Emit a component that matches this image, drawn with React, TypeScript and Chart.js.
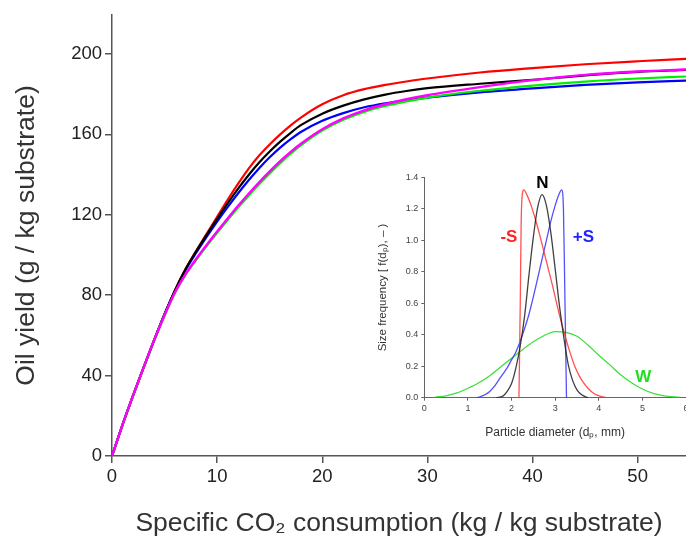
import React, { useEffect, useRef } from "react";
import { Chart, registerables } from "chart.js";

Chart.register(...registerables);

const FONT = '"Liberation Sans", Arial, Helvetica, sans-serif';

// ---------- main chart data ----------
const consumption = [0, 1, 2, 3, 4, 5, 6, 7, 8, 9, 10, 11, 12, 13, 14, 15, 16, 17, 18, 20, 22, 24, 26, 28, 30, 35, 40, 45, 50, 54.6];
const yieldRed = [0, 15.5, 30, 44, 57.5, 70.5, 82.5, 93, 102, 110.5, 119, 127.5, 135.5, 143, 149.5, 155, 160, 164.5, 168.5, 175, 179.5, 182.5, 184.6, 186.3, 187.8, 190.8, 193, 194.9, 196.4, 197.6];
const yieldBlack = [0, 15.5, 30, 44, 57.5, 70.5, 82.5, 93, 101.8, 110, 118, 125.7, 133, 139.8, 146, 151.5, 156.4, 160.8, 164.7, 170.3, 174.3, 177.4, 179.8, 181.6, 183, 185.2, 187.1, 189.4, 191.1, 192.1];
const yieldBlue = [0, 15.5, 30, 44, 57.5, 70.5, 82.3, 92.5, 101, 109, 116.6, 123.8, 130.7, 137.2, 143.2, 148.6, 153.4, 157.6, 161.3, 166.8, 170.6, 173.5, 175.5, 177, 178.3, 180.9, 182.9, 184.6, 185.9, 186.8];
const yieldGreen = [0, 15.5, 30, 44, 57.5, 70, 81.3, 90.2, 97.5, 104.4, 111, 117.4, 123.6, 129.5, 135.2, 140.6, 145.7, 150.4, 154.7, 161.9, 167.3, 171.2, 174.1, 176.4, 178.3, 181.7, 184.3, 186.3, 187.8, 188.8];
const yieldMagenta = [0, 15.5, 30, 44, 57.5, 70, 81.5, 90.5, 98, 105, 111.7, 118.2, 124.5, 130.5, 136.2, 141.6, 146.7, 151.3, 155.5, 162.6, 168, 172, 175, 177.5, 179.5, 183.5, 187, 189.6, 191.3, 192.3];
const mainXTicks = [0, 10, 20, 30, 40, 50];
const mainYTicks = [0, 40, 80, 120, 160, 200];

// ---------- inset data ----------
const diamN = [1.65, 1.8, 1.9, 2.0, 2.1, 2.2, 2.3, 2.4, 2.5, 2.6, 2.7, 2.8, 2.9, 3.0, 3.1, 3.2, 3.3, 3.4, 3.5, 3.6, 3.75];
const freqN = [0, 0.01, 0.04, 0.09, 0.19, 0.33, 0.52, 0.78, 1.02, 1.21, 1.29, 1.22, 1.05, 0.82, 0.58, 0.38, 0.21, 0.11, 0.05, 0.02, 0];
const diamMinusS = [2.17, 2.2, 2.22, 2.25, 2.28, 2.35, 2.45, 2.55, 2.65, 2.75, 2.85, 2.95, 3.05, 3.15, 3.25, 3.35, 3.45, 3.55, 3.65, 3.75, 3.85, 3.95, 4.05, 4.2];
const freqMinusS = [0, 0.6, 1.1, 1.3, 1.32, 1.29, 1.22, 1.13, 1.03, 0.92, 0.81, 0.7, 0.58, 0.47, 0.37, 0.28, 0.2, 0.14, 0.095, 0.06, 0.035, 0.018, 0.008, 0];
const diamPlusS = [1.2, 1.3, 1.4, 1.5, 1.6, 1.7, 1.8, 1.9, 2.0, 2.1, 2.2, 2.3, 2.4, 2.5, 2.6, 2.7, 2.8, 2.9, 3.0, 3.1, 3.15, 3.19, 3.22, 3.26];
const freqPlusS = [0, 0.008, 0.02, 0.04, 0.07, 0.11, 0.15, 0.19, 0.24, 0.29, 0.36, 0.44, 0.53, 0.64, 0.76, 0.88, 1.0, 1.12, 1.22, 1.3, 1.32, 1.2, 0.7, 0];
const diamW = [0.25, 0.5, 0.75, 1, 1.25, 1.5, 1.75, 2, 2.25, 2.5, 2.75, 3, 3.25, 3.5, 3.75, 4, 4.25, 4.5, 4.75, 5, 5.25, 5.5, 5.85];
const freqW = [0.004, 0.012, 0.03, 0.06, 0.095, 0.14, 0.195, 0.25, 0.305, 0.355, 0.395, 0.42, 0.415, 0.39, 0.335, 0.27, 0.21, 0.145, 0.095, 0.055, 0.027, 0.012, 0.003];
const insetXTicks = [0, 1, 2, 3, 4, 5, 6];
const insetYTicks = [0, 0.2, 0.4, 0.6, 0.8, 1.0, 1.2, 1.4];
const insetLabelText = ["N", "-S", "+S", "W"];
const insetLabelX = [2.71, 1.94, 3.65, 5.02];
const insetLabelY = [1.36, 1.02, 1.02, 0.13];
const insetLabelColor = ["#000000", "#ff2222", "#2222ff", "#22dd22"];

const toXY = (xs: number[], ys: number[]) => xs.map((x, i) => ({ x, y: ys[i] }));

export default function App() {
  const mainRef = useRef<HTMLCanvasElement | null>(null);
  const insetRef = useRef<HTMLCanvasElement | null>(null);

  useEffect(() => {
    document.body.style.margin = "0";
    if (!mainRef.current || !insetRef.current) return;

    const line = (data: any, color: string, width: number) => ({
      data,
      borderColor: color,
      backgroundColor: color,
      borderWidth: width,
      pointRadius: 0,
      fill: false,
      cubicInterpolationMode: "monotone" as const,
    });

    const main = new Chart(mainRef.current, {
      type: "line",
      data: {
        datasets: [
          line(toXY(consumption, yieldMagenta), "#ff00ff", 2.4),
          line(toXY(consumption, yieldGreen), "#00ee00", 2.2),
          line(toXY(consumption, yieldBlack), "#000000", 2.2),
          line(toXY(consumption, yieldBlue), "#0000ff", 2.2),
          line(toXY(consumption, yieldRed), "#ff0000", 2.2),
        ],
      },
      options: {
        animation: false,
        responsive: false,
        maintainAspectRatio: false,
        layout: { padding: { left: 0, right: 0, top: 15, bottom: 0 } },
        plugins: { legend: { display: false }, tooltip: { enabled: false } },
        scales: {
          x: {
            type: "linear",
            min: 0,
            max: 54.6,
            afterBuildTicks: (s: any) => {
              s.ticks = mainXTicks.map((v) => ({ value: v }));
            },
            afterFit: (s: any) => {
              s.height = 84;
            },
            grid: { display: true, drawOnChartArea: false, drawTicks: true, tickLength: 7, color: "#555", lineWidth: 1.5 },
            border: { display: true, color: "#555", width: 1.5 },
            ticks: { font: { size: 18.5, family: FONT }, color: "#222", padding: 3, maxRotation: 0, autoSkip: false },
            title: {
              display: true,
              text: "Specific CO₂ consumption (kg / kg substrate)",
              font: { size: 26.5, family: FONT },
              color: "#333",
              padding: { top: 0, bottom: 0 },
            },
          },
          y: {
            type: "linear",
            min: 0,
            max: 219.4,
            afterBuildTicks: (s: any) => {
              s.ticks = mainYTicks.map((v) => ({ value: v }));
            },
            afterFit: (s: any) => {
              s.width = 112;
            },
            grid: { display: true, drawOnChartArea: false, drawTicks: true, tickLength: 7, color: "#555", lineWidth: 1.5 },
            border: { display: true, color: "#555", width: 1.5 },
            ticks: { font: { size: 18.5, family: FONT }, color: "#222", padding: 3, autoSkip: false },
            title: {
              display: true,
              text: "Oil yield (g / kg substrate)",
              font: { size: 26.5, family: FONT },
              color: "#333",
              padding: { top: 11, bottom: 0 },
            },
          },
        },
      },
    });

    const labelPlugin = {
      id: "insetLabels",
      afterDatasetsDraw(chart: any) {
        const ctx = chart.ctx;
        const xs = chart.scales.x;
        const ys = chart.scales.y;
        ctx.save();
        ctx.font = `bold 17px ${FONT}`;
        ctx.textAlign = "center";
        ctx.textBaseline = "middle";
        insetLabelText.forEach((t, i) => {
          ctx.fillStyle = insetLabelColor[i];
          ctx.fillText(t, xs.getPixelForValue(insetLabelX[i]), ys.getPixelForValue(insetLabelY[i]));
        });
        ctx.restore();
      },
    };

    const inset = new Chart(insetRef.current, {
      type: "line",
      data: {
        datasets: [
          line(toXY(diamN, freqN), "rgba(30,30,30,0.85)", 1.3),
          line(toXY(diamMinusS, freqMinusS), "rgba(255,50,50,0.85)", 1.3),
          line(toXY(diamPlusS, freqPlusS), "rgba(50,50,255,0.85)", 1.3),
          line(toXY(diamW, freqW), "rgba(40,220,40,0.9)", 1.3),
        ],
      },
      options: {
        animation: false,
        responsive: false,
        maintainAspectRatio: false,
        layout: { padding: { left: 0, right: 24, top: 17.3, bottom: 0 } },
        plugins: { legend: { display: false }, tooltip: { enabled: false } },
        scales: {
          x: {
            type: "linear",
            min: 0,
            max: 6,
            afterBuildTicks: (s: any) => {
              s.ticks = insetXTicks.map((v) => ({ value: v }));
            },
            afterFit: (s: any) => {
              s.height = 47.3;
            },
            grid: { display: true, drawOnChartArea: false, drawTicks: true, tickLength: 3, color: "#666", lineWidth: 1 },
            border: { display: true, color: "#666", width: 1 },
            ticks: { font: { size: 9, family: FONT }, color: "#444", padding: 2, maxRotation: 0, autoSkip: false },
            title: {
              display: true,
              text: "Particle diameter (dₚ, mm)",
              font: { size: 12, family: FONT },
              color: "#333",
              padding: { top: 0, bottom: 4.8 },
            },
          },
          y: {
            type: "linear",
            min: 0,
            max: 1.4,
            afterBuildTicks: (s: any) => {
              s.ticks = insetYTicks.map((v) => ({ value: v }));
            },
            afterFit: (s: any) => {
              s.width = 74.3;
            },
            grid: { display: true, drawOnChartArea: false, drawTicks: true, tickLength: 3, color: "#666", lineWidth: 1 },
            border: { display: true, color: "#666", width: 1 },
            ticks: {
              font: { size: 9, family: FONT },
              color: "#444",
              padding: 3,
              autoSkip: false,
              callback: (v: any) => Number(v).toFixed(1),
            },
            title: {
              display: true,
              text: "Size frequency [ f(dₚ), – )",
              font: { size: 11.5, family: FONT },
              color: "#333",
              padding: { top: 26, bottom: 0 },
            },
          },
        },
      },
      plugins: [labelPlugin],
    });

    return () => {
      main.destroy();
      inset.destroy();
    };
  }, []);

  return (
    <div style={{ position: "relative", width: 686, height: 540, overflow: "hidden", background: "#fff" }}>
      <canvas ref={mainRef} width={686} height={540} style={{ position: "absolute", left: 0, top: 0, width: 686, height: 540 }} />
      <canvas ref={insetRef} width={360} height={285} style={{ position: "absolute", left: 350, top: 160, width: 360, height: 285 }} />
    </div>
  );
}
